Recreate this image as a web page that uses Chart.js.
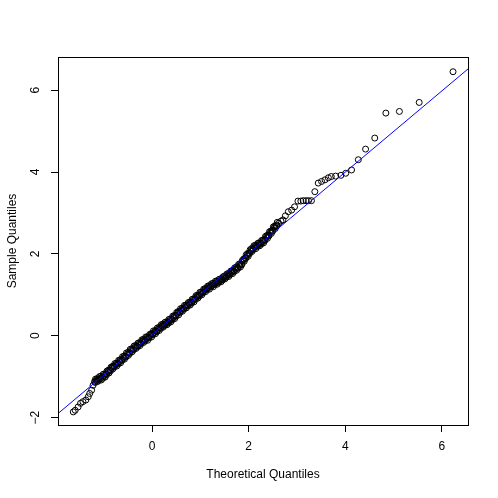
<!DOCTYPE html>
<html>
<head>
<meta charset="utf-8">
<script src="https://cdn.jsdelivr.net/npm/chart.js@4"></script>
<style>
  html, body { margin: 0; padding: 0; background: #fff; }
  #wrap { width: 498px; height: 498px; position: relative; }
</style>
</head>
<body>
<div id="wrap"><canvas id="qq"></canvas></div>
<script>
// Theoretical quantiles (x) and sample quantiles (y)
const theoretical = [
  -1.63, -1.59, -1.53, -1.48, -1.43, -1.37, -1.32, -1.29, -1.25, -1.22,
  -1.19, -1.15, -1.11, -1.07, -1.03, -0.99, -0.95, -0.91, -0.87, -0.83,
  -0.79, -0.75, -0.71, -0.67, -0.63, -0.59, -0.55, -0.51, -0.47, -0.43,
  -0.39, -0.35, -0.31, -0.27, -0.23, -0.19, -0.15, -0.11, -0.07, -0.03,
  0.01, 0.05, 0.09, 0.13, 0.17, 0.21, 0.25, 0.29, 0.33, 0.37,
  0.41, 0.45, 0.49, 0.53, 0.57, 0.61, 0.65, 0.69, 0.73, 0.77,
  0.81, 0.85, 0.89, 0.93, 0.97, 1.01, 1.05, 1.09, 1.13, 1.17,
  1.21, 1.25, 1.29, 1.33, 1.37, 1.41, 1.45, 1.49, 1.53, 1.57,
  1.61, 1.65, 1.69, 1.73, 1.77, 1.81, 1.85, 1.89, 1.93, 1.97,
  2.01, 2.05, 2.09, 2.13, 2.17, 2.21, 2.25, 2.29, 2.33, 2.37,
  2.41, 2.45, 2.49, 2.53, 2.57, 2.62, 2.67, 2.71, 2.76, 2.82,
  2.89, 2.95, 3.02, 3.08, 3.13, 3.19, 3.24, 3.30, 3.37, 3.44,
  3.51, 3.58, 3.65, 3.71, 3.80, 3.91, 4.01, 4.13, 4.27, 4.42,
  4.61, 4.84, 5.12, 5.53, 6.23
];
const sample = [
  -1.86, -1.82, -1.74, -1.65, -1.61, -1.57, -1.49, -1.41, -1.33, -1.21,
  -1.12, -1.09, -1.06, -1.04, -1.01, -0.98, -0.93, -0.88, -0.84, -0.79,
  -0.74, -0.71, -0.67, -0.63, -0.58, -0.54, -0.50, -0.45, -0.41, -0.36,
  -0.32, -0.28, -0.25, -0.21, -0.17, -0.13, -0.10, -0.07, -0.03, 0.01,
  0.05, 0.08, 0.12, 0.16, 0.20, 0.24, 0.27, 0.30, 0.33, 0.37,
  0.41, 0.45, 0.50, 0.55, 0.59, 0.63, 0.67, 0.71, 0.75, 0.78,
  0.82, 0.86, 0.91, 0.95, 0.99, 1.03, 1.07, 1.11, 1.15, 1.18,
  1.21, 1.24, 1.27, 1.30, 1.32, 1.35, 1.38, 1.42, 1.45, 1.48,
  1.52, 1.55, 1.59, 1.63, 1.67, 1.71, 1.75, 1.83, 1.90, 1.96,
  2.02, 2.08, 2.13, 2.17, 2.20, 2.23, 2.26, 2.30, 2.35, 2.41,
  2.46, 2.52, 2.58, 2.64, 2.70, 2.75, 2.80, 2.83, 2.93, 3.03,
  3.07, 3.15, 3.29, 3.29, 3.30, 3.30, 3.30, 3.30, 3.52, 3.73,
  3.77, 3.81, 3.86, 3.89, 3.90, 3.92, 3.97, 4.05, 4.30, 4.56,
  4.83, 5.44, 5.48, 5.70, 6.45
];
// extra points along the upper and lower edges of the dense band
const theoreticalDense = [
  -1.17, -1.13, -1.09, -1.05, -1.01, -0.97, -0.93, -0.89, -0.85, -0.81,
  -0.77, -0.73, -0.69, -0.65, -0.61, -0.57, -0.53, -0.49, -0.45, -0.41,
  -0.37, -0.33, -0.29, -0.25, -0.21, -0.17, -0.13, -0.09, -0.05, -0.01,
  0.03, 0.07, 0.11, 0.15, 0.19, 0.23, 0.27, 0.31, 0.35, 0.39,
  0.43, 0.47, 0.51, 0.55, 0.59, 0.63, 0.67, 0.71, 0.75, 0.79,
  0.83, 0.87, 0.91, 0.95, 0.99, 1.03, 1.07, 1.11, 1.15, 1.19,
  1.23, 1.27, 1.31, 1.35, 1.39, 1.43, 1.47, 1.51, 1.55, 1.59,
  1.63, 1.67, 1.71, 1.75, 1.79, 1.83, 1.87, 1.91, 1.95, 1.99,
  2.03, 2.07, 2.11, 2.15, 2.19, 2.23, 2.27, 2.31, 2.35, 2.39,
  2.43, 2.47, 2.51, 2.55, 2.59
];
const sampleDense = [
  -1.06, -1.12, -1.00, -1.08, -0.94, -1.01, -0.86, -0.91, -0.77, -0.81,
  -0.68, -0.74, -0.60, -0.66, -0.51, -0.57, -0.42, -0.48, -0.33, -0.39,
  -0.25, -0.31, -0.18, -0.24, -0.10, -0.16, -0.03, -0.11, 0.03, -0.03,
  0.12, 0.05, 0.19, 0.13, 0.27, 0.21, 0.33, 0.27, 0.40, 0.34,
  0.48, 0.42, 0.57, 0.51, 0.66, 0.60, 0.74, 0.68, 0.81, 0.75,
  0.89, 0.83, 0.98, 0.92, 1.06, 1.00, 1.14, 1.08, 1.21, 1.14,
  1.27, 1.20, 1.33, 1.26, 1.38, 1.32, 1.44, 1.39, 1.51, 1.45,
  1.58, 1.52, 1.66, 1.60, 1.74, 1.68, 1.84, 1.82, 1.98, 1.94,
  2.10, 2.06, 2.20, 2.13, 2.26, 2.20, 2.33, 2.27, 2.43, 2.38,
  2.54, 2.50, 2.66, 2.62, 2.77
];
// more points packed into the middle of the band
const theoreticalCore = [
  -1.18, -1.14, -1.10, -1.06, -1.02, -0.98, -0.94, -0.90, -0.86, -0.82,
  -0.78, -0.74, -0.70, -0.66, -0.62, -0.58, -0.54, -0.50, -0.46, -0.42,
  -0.38, -0.34, -0.30, -0.26, -0.22, -0.18, -0.14, -0.10, -0.06, -0.02,
  0.02, 0.06, 0.10, 0.14, 0.18, 0.22, 0.26, 0.30, 0.34, 0.38,
  0.42, 0.46, 0.50, 0.54, 0.58, 0.62, 0.66, 0.70, 0.74, 0.78,
  0.82, 0.86, 0.90, 0.94, 0.98, 1.02, 1.06, 1.10, 1.14, 1.18,
  1.22, 1.26, 1.30, 1.34, 1.38, 1.42, 1.46, 1.50, 1.54, 1.58,
  1.62, 1.66, 1.70, 1.74, 1.78, 1.82, 1.86, 1.90, 1.94, 1.98,
  2.02, 2.06, 2.10, 2.14, 2.18, 2.22, 2.26, 2.30, 2.34, 2.38,
  2.42, 2.46, 2.50, 2.54, 2.58
];
const sampleCore = [
  -1.14, -1.05, -1.09, -0.99, -1.04, -0.93, -0.95, -0.84, -0.86, -0.75,
  -0.76, -0.67, -0.69, -0.59, -0.60, -0.50, -0.52, -0.41, -0.43, -0.32,
  -0.34, -0.24, -0.27, -0.17, -0.19, -0.09, -0.12, -0.03, -0.05, 0.05,
  0.03, 0.12, 0.10, 0.20, 0.18, 0.28, 0.25, 0.34, 0.31, 0.41,
  0.39, 0.49, 0.48, 0.59, 0.57, 0.67, 0.65, 0.75, 0.73, 0.82,
  0.80, 0.90, 0.89, 0.99, 0.97, 1.07, 1.05, 1.15, 1.13, 1.22,
  1.19, 1.28, 1.25, 1.34, 1.30, 1.39, 1.36, 1.46, 1.43, 1.52,
  1.50, 1.59, 1.57, 1.67, 1.65, 1.76, 1.74, 1.88, 1.89, 2.01,
  2.01, 2.13, 2.11, 2.21, 2.18, 2.27, 2.24, 2.34, 2.33, 2.45,
  2.44, 2.56, 2.56, 2.68, 2.68
];
const xTicks = [0, 2, 4, 6];
const yTicks = [-2, 0, 2, 4, 6];
const xRange = [-1.946, 6.54];
const yRange = [-2.18, 6.81];
// reference line (qqline)
const lineIntercept = 0.03;
const lineSlope = 0.992;

const FONT = '12px "Liberation Sans", Arial, Helvetica, sans-serif';

function toPoints(xs, ys) {
    return xs.map((x, i) => ({ x: x, y: ys[i] }));
}
const points = toPoints(theoretical, sample)
    .concat(toPoints(theoreticalDense, sampleDense))
    .concat(toPoints(theoreticalCore, sampleCore));
const refLine = xRange.map(x => ({ x: x, y: lineIntercept + lineSlope * x }));

// box, axis labels and titles the way base R draws them
const rStyle = {
    id: 'rStyle',
    afterDraw(chart) {
        const ctx = chart.ctx;
        const a = chart.chartArea;
        const xs = chart.scales.x;
        const ys = chart.scales.y;
        ctx.save();
        ctx.strokeStyle = '#000';
        ctx.lineWidth = 1;
        ctx.strokeRect(a.left + 0.5, a.top + 0.5, a.right - a.left, a.bottom - a.top);

        ctx.fillStyle = '#000';
        ctx.font = FONT;
        ctx.textAlign = 'center';
        ctx.textBaseline = 'middle';
        xTicks.forEach(v => ctx.fillText(String(v), xs.getPixelForValue(v), 446.5));
        ctx.fillText('Theoretical Quantiles', (a.left + a.right) / 2, 475);

        yTicks.forEach(v => {
            ctx.save();
            ctx.translate(36, ys.getPixelForValue(v));
            ctx.rotate(-Math.PI / 2);
            ctx.fillText(v < 0 ? '\u2212' + Math.abs(v) : String(v), 0, 0);
            ctx.restore();
        });
        ctx.save();
        ctx.translate(12.5, (a.top + a.bottom) / 2);
        ctx.rotate(-Math.PI / 2);
        ctx.fillText('Sample Quantiles', 0, 0);
        ctx.restore();
        ctx.restore();
    }
};

const axisCommon = {
    type: 'linear',
    border: { display: false },
    grid: {
        display: true,
        drawOnChartArea: false,
        drawTicks: true,
        tickLength: 7,
        tickColor: '#000',
        lineWidth: 1
    },
    ticks: { color: 'rgba(0,0,0,0)', font: { size: 12 } }
};

new Chart(document.getElementById('qq'), {
    type: 'scatter',
    data: {
        datasets: [{
            data: points,
            order: 1,
            pointStyle: 'circle',
            pointRadius: 3,
            pointBorderWidth: 1,
            borderColor: '#000',
            backgroundColor: 'rgba(0,0,0,0)',
            showLine: false
        }, {
            type: 'line',
            data: refLine,
            order: 0,
            borderColor: '#0000FF',
            borderWidth: 1,
            pointRadius: 0,
            fill: false
        }]
    },
    options: {
        responsive: true,
        maintainAspectRatio: false,
        animation: false,
        events: [],
        layout: { padding: { top: 57, right: 30, left: 0, bottom: 0 } },
        plugins: {
            legend: { display: false },
            tooltip: { enabled: false }
        },
        scales: {
            x: {
                ...axisCommon,
                min: xRange[0],
                max: xRange[1],
                afterBuildTicks: s => { s.ticks = xTicks.map(v => ({ value: v })); },
                afterFit: s => { s.height = 73; }
            },
            y: {
                ...axisCommon,
                min: yRange[0],
                max: yRange[1],
                afterBuildTicks: s => { s.ticks = yTicks.map(v => ({ value: v })); },
                afterFit: s => { s.width = 58; }
            }
        }
    },
    plugins: [rStyle]
});
</script>
</body>
</html>
